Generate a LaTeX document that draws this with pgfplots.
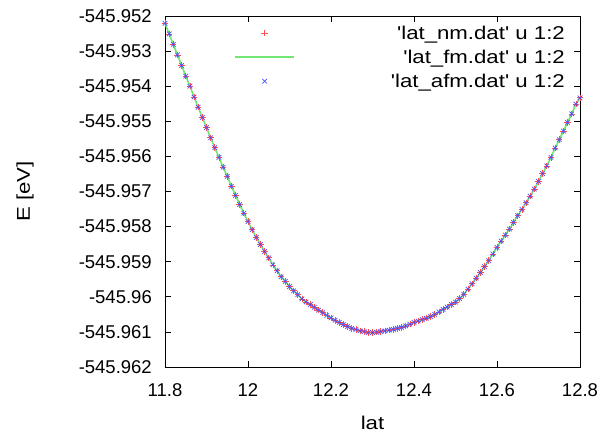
\documentclass[border=0pt]{standalone}
\usepackage{fontspec}
\setmainfont{Liberation Sans}
\newfontfamily\widefont[FakeStretch=1.2]{Liberation Sans}
\usepackage{pgfplots}
\usepackage{pgfplotstable}
\pgfplotsset{compat=1.18}

% energies keep their full value in the table; the trafo reads the
% digits after "-545." directly so that no precision is lost
\def\Etrafo#1{\edef\Etmp{#1}\expandafter\Eparse\Etmp\relax}
\def\Eparse-545.#1\relax{\def\pgfmathresult{-0.#1}}

\definecolor{gpred}{rgb}{1,0.3,0.3}
\definecolor{gpgreen}{rgb}{0.45,0.9,0.45}
\definecolor{gpblue}{rgb}{0.3,0.3,1}

\pgfplotstableread{
lat E
11.80 -545.95221
11.81 -545.95251
11.82 -545.95281
11.83 -545.95311
11.84 -545.95341
11.85 -545.95371
11.86 -545.95400
11.87 -545.95431
11.88 -545.95460
11.89 -545.95489
11.90 -545.95518
11.91 -545.95547
11.92 -545.95575
11.93 -545.95603
11.94 -545.95631
11.95 -545.95657
11.96 -545.95685
11.97 -545.95711
11.98 -545.95737
11.99 -545.95762
12.00 -545.95786
12.01 -545.95809
12.02 -545.95831
12.03 -545.95851
12.04 -545.95871
12.05 -545.95889
12.06 -545.95909
12.07 -545.95926
12.08 -545.95943
12.09 -545.95956
12.10 -545.95971
12.11 -545.95983
12.12 -545.95994
12.13 -545.96006
12.14 -545.96015
12.15 -545.96022
12.16 -545.96030
12.17 -545.96038
12.18 -545.96045
12.19 -545.96053
12.20 -545.96060
12.21 -545.96067
12.22 -545.96073
12.23 -545.96079
12.24 -545.96085
12.25 -545.96090
12.26 -545.96093
12.27 -545.96097
12.28 -545.96099
12.29 -545.96102
12.30 -545.96102
12.31 -545.96101
12.32 -545.96099
12.33 -545.96097
12.34 -545.96095
12.35 -545.96093
12.36 -545.96090
12.37 -545.96087
12.38 -545.96083
12.39 -545.96078
12.40 -545.96073
12.41 -545.96069
12.42 -545.96065
12.43 -545.96061
12.44 -545.96056
12.45 -545.96050
12.46 -545.96043
12.47 -545.96036
12.48 -545.96029
12.49 -545.96022
12.50 -545.96015
12.51 -545.96005
12.52 -545.95993
12.53 -545.95978
12.54 -545.95963
12.55 -545.95947
12.56 -545.95931
12.57 -545.95914
12.58 -545.95897
12.59 -545.95878
12.60 -545.95859
12.61 -545.95841
12.62 -545.95824
12.63 -545.95807
12.64 -545.95788
12.65 -545.95769
12.66 -545.95751
12.67 -545.95732
12.68 -545.95713
12.69 -545.95693
12.70 -545.95671
12.71 -545.95649
12.72 -545.95627
12.73 -545.95603
12.74 -545.95576
12.75 -545.95552
12.76 -545.95528
12.77 -545.95503
12.78 -545.95479
12.79 -545.95451
12.80 -545.95433
}\datatable

\begin{document}
\begin{tikzpicture}
\begin{axis}[
  at={(0,0)}, anchor=south west,
  scale only axis, width=415pt, height=351pt,
  xmin=11.8, xmax=12.8, ymin=-545.962, ymax=-545.952,
  y coord trafo/.code={\Etrafo{#1}},
  xtick={11.8,12,12.2,12.4,12.6,12.8},
  xticklabels={11.8,12,12.2,12.4,12.6,12.8},
  ytick={-545.962,-545.961,-545.96,-545.959,-545.958,-545.957,-545.956,-545.955,-545.954,-545.953,-545.952},
  yticklabels={-545.962,-545.961,-545.96,-545.959,-545.958,-545.957,-545.956,-545.955,-545.954,-545.953,-545.952},
  tick align=inside, major tick length=6pt,
  tick style={black, line width=0.6pt},
  axis line style={black, line width=0.8pt},
  ticklabel style={font=\fontsize{18.5}{20}\selectfont},
  yticklabel style={anchor=east, inner sep=0pt, xshift=-13pt},
  xticklabel style={anchor=north, inner sep=0pt, yshift=-16.5pt},
  every axis y label/.style={at={(axis description cs:-0.3373,0.5)}, rotate=90, anchor=center, font=\widefont\fontsize{18.5}{20}\selectfont},
  every axis x label/.style={at={(axis description cs:0.5,-0.1595)}, anchor=center, font=\widefont\fontsize{18.5}{20}\selectfont},
  xlabel={lat}, ylabel={E [eV]},
  legend image code/.code={\draw[mark repeat=2, mark phase=2, #1] plot coordinates {(0pt,0pt) (29.5pt,0pt) (59pt,0pt)};},
  legend cell align=right,
  legend style={at={(axis description cs:1,1)}, anchor=north east, xshift=-15pt, yshift=-5pt,
    draw=none, fill=none, inner sep=0pt, row sep=0pt, column sep=96pt,
    font=\widefont\fontsize{18.5}{20}\selectfont,
    nodes={inner sep=0pt, text height=18.6pt, text depth=5.4pt}},
]
\addplot[gpred, only marks, mark=+, mark size=3.2pt, line width=0.7pt] table[x=lat, y=E] {\datatable};
\addlegendentry{'lat\_nm.dat' u 1:2}
\addplot[draw=gpgreen, color=gpgreen, line width=1.6pt, no marks] table[x=lat, y=E] {\datatable};
\addlegendentry{'lat\_fm.dat' u 1:2}
\addplot[gpblue, only marks, mark=x, mark size=3.2pt, line width=0.7pt] table[x=lat, y=E] {\datatable};
\addlegendentry{'lat\_afm.dat' u 1:2}
\end{axis}
\pgfresetboundingbox
\useasboundingbox (-165pt,-71pt) rectangle (440pt,367pt);
\end{tikzpicture}
\end{document}
